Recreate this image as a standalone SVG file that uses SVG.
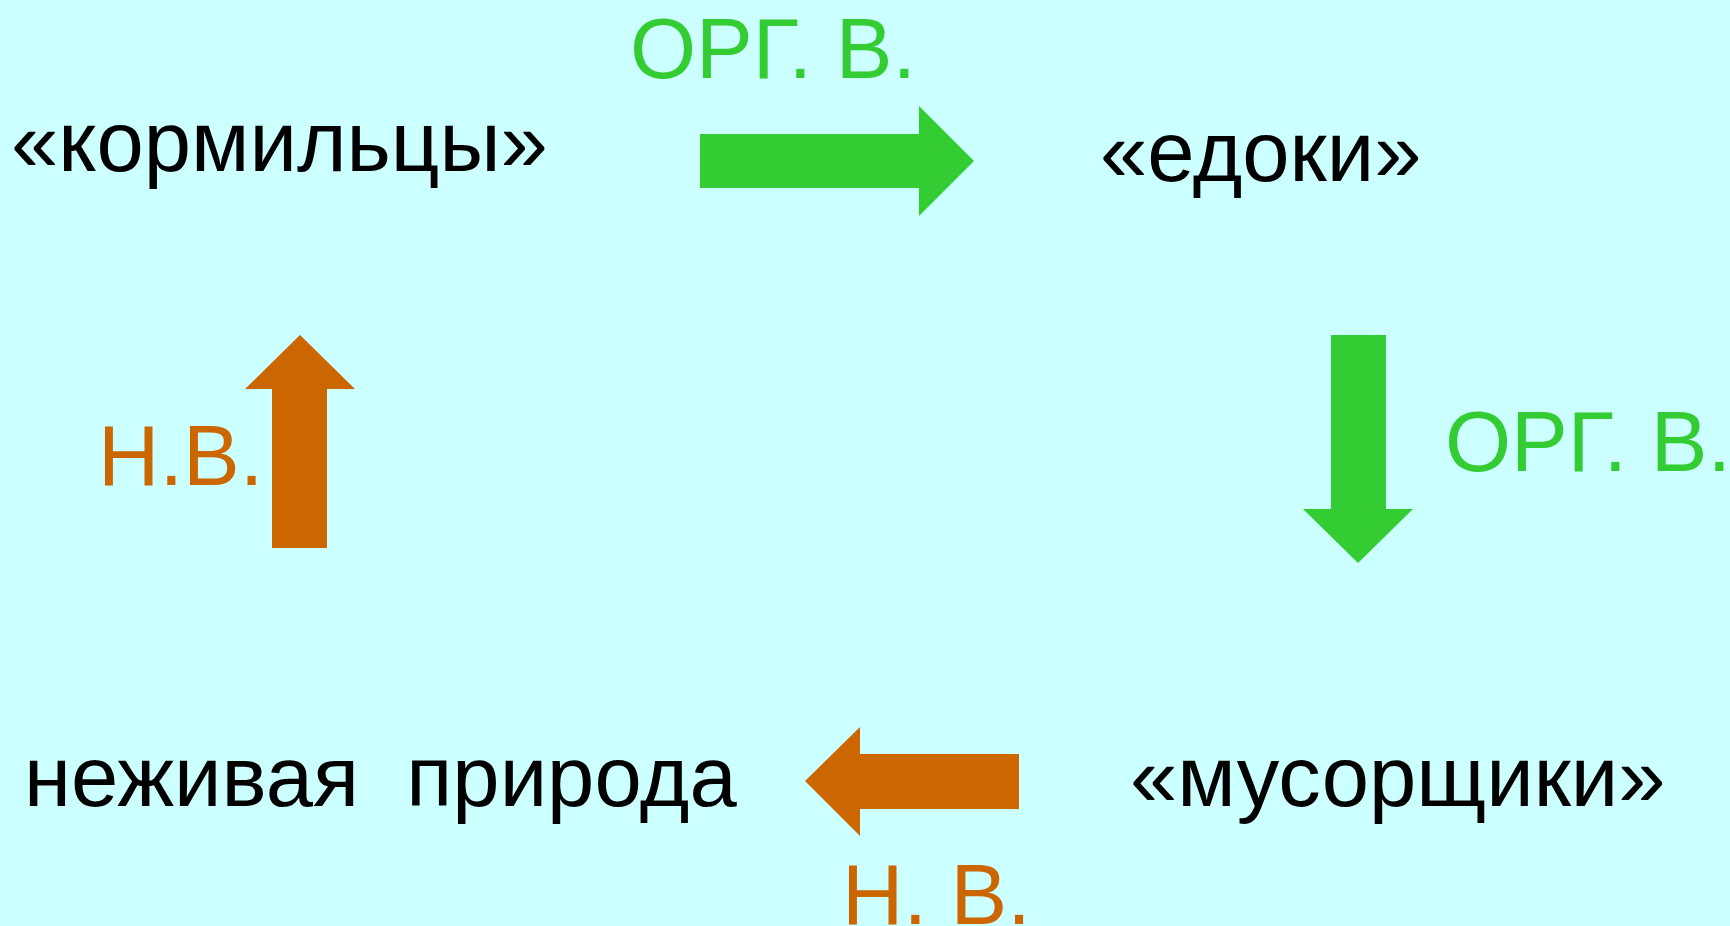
<svg xmlns="http://www.w3.org/2000/svg" width="1730" height="926" viewBox="0 0 1730 926">
<style>
.node{font-family:"Liberation Sans",Arial,sans-serif;font-size:85px;fill:#000}
.lbl{font-family:"Liberation Sans",Arial,sans-serif;font-size:85px}
.org{fill:#33CC33}
.nv{fill:#CC6600}
</style>
<rect width="1730" height="926" fill="#CCFFFF"/>
<g id="node-kormiltsy"><text class="node" x="11" y="171">«кормильцы»</text></g>
<g id="node-edoki"><text class="node" x="1100" y="181">«едоки»</text></g>
<g id="node-musorshchiki"><text class="node" x="1130" y="806">«мусорщики»</text></g>
<g id="node-nezhivaya"><text class="node" x="24" y="806" xml:space="preserve">неживая  природа</text></g>
<g id="connectors">
<polygon class="org" points="700,134 919,134 919,106 974,161 919,216 919,188 700,188"/>
<text class="lbl org" x="630" y="78">ОРГ. В.</text>
<polygon class="org" points="1331,335 1386,335 1386,509 1413,509 1358,563 1303,509 1331,509"/>
<text class="lbl org" x="1445" y="471">ОРГ. В.</text>
<polygon class="nv" points="1019,754 1019,809 860,809 860,836 805,781 860,727 860,754"/>
<text class="lbl nv" x="842" y="924">Н. В.</text>
<polygon class="nv" points="272,548 327,548 327,389 355,389 300,335 245,389 272,389"/>
<text class="lbl nv" x="98" y="485">Н.В.</text>
</g>
</svg>
